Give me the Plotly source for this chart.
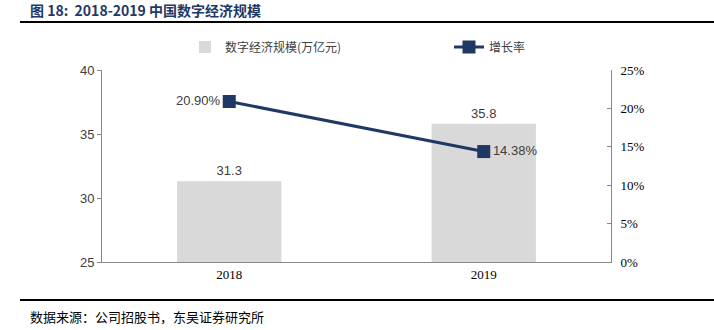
import plotly.graph_objects as go

years = ["2018", "2019"]
scale = [31.3, 35.8]
growth = [0.2090, 0.1438]
scale_labels = ["31.3", "35.8"]
growth_labels = ["20.90%", "14.38%"]
title_text = "图 18:  2018-2019 中国数字经济规模"
source_text = "数据来源：公司招股书，东吴证券研究所"

L, R, T, B = 102, 103, 70, 68
W, H = 714, 330
pw, ph = W - L - R, H - T - B

def px_x(p):
    return (p - L) / pw

def px_y(p):
    return (H - B - p) / ph

legend_font = dict(family="Noto Sans CJK SC", size=12, color="#404040")

fig = go.Figure()
fig.add_trace(go.Bar(
    x=years, y=scale, name="数字经济规模(万亿元)",
    marker=dict(color="#d9d9d9", line=dict(width=0)),
    width=0.41,
    text=scale_labels, textposition="outside",
    textfont=dict(family="Liberation Sans, Arial", size=13, color="#404040"),
    cliponaxis=False, legend="legend",
))
fig.add_trace(go.Scatter(
    x=years, y=growth, name="增长率", yaxis="y2",
    mode="lines+markers+text",
    line=dict(color="#1f3864", width=3),
    marker=dict(symbol="square", size=13, color="#1f3864"),
    text=growth_labels, textposition=["middle left", "middle right"],
    textfont=dict(family="Liberation Sans, Arial", size=13, color="#404040"),
    cliponaxis=False, legend="legend2",
))

fig.update_layout(
    width=W, height=H, margin=dict(l=L, r=R, t=T, b=B),
    plot_bgcolor="white", paper_bgcolor="white",
    showlegend=True,
    legend=dict(orientation="h", x=px_x(185), y=px_y(47), yanchor="middle", xanchor="left",
                font=legend_font, bgcolor="rgba(0,0,0,0)"),
    legend2=dict(orientation="h", x=px_x(449), y=px_y(47), yanchor="middle", xanchor="left",
                 font=legend_font, bgcolor="rgba(0,0,0,0)"),
    bargap=0.59,
    xaxis=dict(showline=True, linecolor="#888888", linewidth=1, ticks="",
               tickfont=dict(family="Liberation Serif, Times New Roman", size=13, color="#000000"),
               fixedrange=True),
    yaxis=dict(range=[25, 40], dtick=5, showgrid=False, showline=True, linecolor="#888888",
               linewidth=1, ticks="outside", ticklen=4, tickcolor="#888888",
               tickfont=dict(family="Liberation Sans, Arial", size=13, color="#404040")),
    yaxis2=dict(range=[0, 0.25], dtick=0.05, tickformat=".0%", overlaying="y", side="right",
                showgrid=False, showline=True, linecolor="#888888", linewidth=1,
                ticks="inside", ticklen=4, tickcolor="#888888", ticklabelstandoff=6,
                tickfont=dict(family="Liberation Serif, Times New Roman", size=13, color="#000000")),
    shapes=[
        dict(type="line", xref="paper", yref="paper", x0=px_x(20), x1=px_x(714),
             y0=px_y(22), y1=px_y(22), line=dict(color="#000000", width=2)),
        dict(type="line", xref="paper", yref="paper", x0=px_x(20), x1=px_x(714),
             y0=px_y(300), y1=px_y(300), line=dict(color="#000000", width=2)),
    ],
    annotations=[
        dict(text="<b>" + title_text + "</b>", xref="paper", yref="paper",
             x=px_x(28), y=px_y(10), xanchor="left", yanchor="middle", showarrow=False,
             font=dict(family="Noto Sans CJK SC", size=14, color="#1f3864")),
        dict(text=source_text, xref="paper", yref="paper",
             x=px_x(28), y=px_y(316), xanchor="left", yanchor="middle", showarrow=False,
             font=dict(family="Noto Sans CJK SC", size=13, color="#000000")),
    ],
)

fig.write_html("out.html")
